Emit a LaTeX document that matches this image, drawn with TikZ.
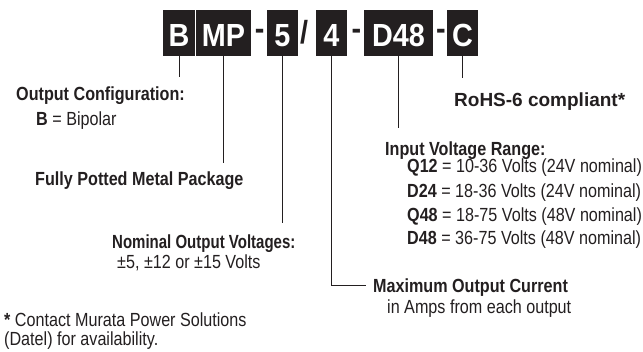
\documentclass[tikz,border=0pt]{standalone}
\usepackage{fontspec}
\setmainfont{Liberation Sans}[FakeStretch=0.85]
\newfontfamily\narrowf{Liberation Sans}[FakeStretch=0.79]
\newfontfamily\widef{Liberation Sans}
\newfontfamily\codef{Liberation Sans}[FakeStretch=0.9]
\definecolor{ink}{HTML}{231F20}
\begin{document}
\begin{tikzpicture}[x=1pt,y=-1pt,
  codebox/.style={fill=ink,text=white,inner sep=0pt,minimum height=46pt,
    text height=27.4pt,text depth=0pt,font=\fontsize{32}{34}\codef\bfseries},
  sepch/.style={anchor=base,inner sep=0pt,text=ink,font=\fontsize{32}{34}\codef\bfseries},
  lbl/.style={anchor=base west,inner sep=0pt,text=ink,font=\fontsize{19}{21}\selectfont},
  hd/.style={lbl,font=\fontsize{19}{21}\selectfont\bfseries},
  conn/.style={draw=ink,line width=1pt}]
\useasboundingbox (0,0) rectangle (643,351);
% code boxes
\node[codebox,minimum width=32pt] (b) at (179,33) {B};
\node[codebox,minimum width=55pt] (mp) at (223.5,33) {MP};
\node[codebox,minimum width=31pt] (v) at (282.5,33) {5};
\node[codebox,minimum width=31pt] (a) at (331.5,33) {4};
\node[codebox,minimum width=69pt] (d) at (398.5,33) {D48};
\node[codebox,minimum width=31pt] (c) at (462.5,33) {C};
% separators
\node[sepch] (s1) at (259.7,39.5) {-};
\node[sepch] (s2) at (304.2,43) {/};
\node[sepch] (s3) at (356.5,39.5) {-};
\node[sepch] (s4) at (441,39.5) {-};
% labels
\node[hd] (oc) at (16,100.7) {Output Configuration:};
\node[lbl] (ocb) at (36,125.5) {\textbf{B} = Bipolar};
\node[hd] (fp) at (35,185) {Fully Potted Metal Package};
\node[hd,font=\fontsize{19}{21}\narrowf\bfseries] (nov) at (112,248) {Nominal Output Voltages:};
\node[lbl] (novv) at (117,268) {±5, ±12 or ±15 Volts};
\node[hd] (moc) at (373,292.7) {Maximum Output Current};
\node[lbl] (mocv) at (387,313.5) {in Amps from each output};
\node[hd,font=\fontsize{19}{21}\widef\bfseries] (rohs) at (454,106.5) {RoHS-6 compliant*};
\node[hd] (ivr) at (385,155) {Input Voltage Range:};
\node[lbl] (r1) at (407,172.7) {\textbf{Q12} = 10-36 Volts (24V nominal)};
\node[lbl] (r2) at (407,197.7) {\textbf{D24} = 18-36 Volts (24V nominal)};
\node[lbl] (r3) at (407,221) {\textbf{Q48} = 18-75 Volts (48V nominal)};
\node[lbl] (r4) at (407,244.3) {\textbf{D48} = 36-75 Volts (48V nominal)};
\node[lbl] (n1) at (4,326.7) {\textbf{*} Contact Murata Power Solutions};
\node[lbl] (n2) at (4,345) {(Datel) for availability.};
% connector ends
\coordinate (eb) at (179,77);
\coordinate (emp) at (223.5,163);
\coordinate (ev) at (282.5,223);
\coordinate (ea) at (331.5,285.5);
\coordinate (ea2) at (366,285.5);
\coordinate (ed) at (398.5,128);
\coordinate (ec) at (462.5,78);
% connectors
\draw[conn] (b.south) -- (eb);
\draw[conn] (mp.south) -- (emp);
\draw[conn] (v.south) -- (ev);
\draw[conn] (a.south) -- (ea) -- (ea2);
\draw[conn] (d.south) -- (ed);
\draw[conn] (c.south) -- (ec);
\end{tikzpicture}
\end{document}
